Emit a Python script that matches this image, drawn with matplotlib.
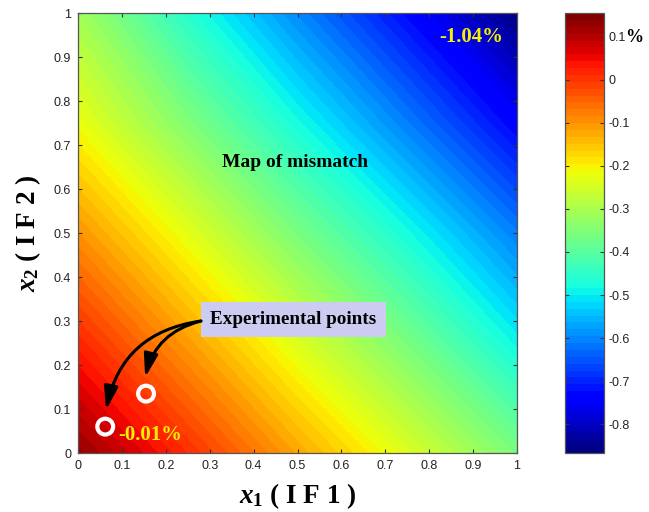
import numpy as np
import matplotlib
matplotlib.use("Agg")
import matplotlib.pyplot as plt

# Grid nodes (fraction of component 1 and component 2)
x1_nodes = [0.0, 0.25, 0.5, 0.75, 1.0]
x2_nodes = [0.0, 0.25, 0.5, 0.75, 1.0]

# Mismatch (%) at each node, rows follow x2_nodes, columns follow x1_nodes
mismatch_x2_000 = [0.13, 0.01, -0.12, -0.24, -0.36]
mismatch_x2_025 = [0.02, -0.11, -0.24, -0.36, -0.49]
mismatch_x2_050 = [-0.10, -0.23, -0.36, -0.48, -0.61]
mismatch_x2_075 = [-0.22, -0.35, -0.48, -0.61, -0.74]
mismatch_x2_100 = [-0.31, -0.46, -0.60, -0.73, -0.86]

# Experimental points
exp_x1 = [0.062, 0.155]
exp_x2 = [0.060, 0.135]

# Colour scale limits and ticks
c_min, c_max = -0.867, 0.155
cbar_ticks = [-0.8, -0.7, -0.6, -0.5, -0.4, -0.3, -0.2, -0.1, 0.0, 0.1]
axis_ticks = [0, 0.1, 0.2, 0.3, 0.4, 0.5, 0.6, 0.7, 0.8, 0.9, 1]

plt.rcParams['font.family'] = ['Liberation Sans', 'DejaVu Sans']
plt.rcParams['mathtext.fontset'] = 'custom'
plt.rcParams['mathtext.it'] = 'Liberation Serif:italic:bold'
plt.rcParams['mathtext.rm'] = 'Liberation Serif:bold'
plt.rcParams['mathtext.bf'] = 'Liberation Serif:bold'

Z = np.array([mismatch_x2_000, mismatch_x2_025, mismatch_x2_050,
              mismatch_x2_075, mismatch_x2_100])
X1, X2 = np.meshgrid(x1_nodes, x2_nodes)

fig = plt.figure(figsize=(6.49, 5.12), dpi=100)
ax = fig.add_axes([0.1202, 0.1152, 0.6764, 0.8594])
cax = fig.add_axes([0.8706, 0.1152, 0.0601, 0.8594])

cmap = plt.get_cmap('jet', 64)
levels = np.linspace(c_min, c_max, 65)
cs = ax.contourf(X1, X2, Z, levels=levels, cmap=cmap, vmin=c_min, vmax=c_max,
                 extend='neither', antialiased=False)

ax.set_xlim(0, 1)
ax.set_ylim(0, 1)
ax.set_xticks(axis_ticks)
ax.set_yticks(axis_ticks)
ax.set_xticklabels([f"{t:g}" for t in axis_ticks])
ax.set_yticklabels([f"{t:g}" for t in axis_ticks])
ax.tick_params(direction='in', length=3, width=0.8, top=True, right=True,
               labelsize=9, labelcolor='#222222', color='#333333', pad=5)
for s in ax.spines.values():
    s.set_color('#555555')
    s.set_linewidth(0.9)

ax.set_xlabel(r'$x_1$ ( I F 1 )', fontsize=19.5, family='Liberation Serif',
              fontweight='bold', labelpad=7)
ax.set_ylabel(r'$x_2$ ( I F 2 )', fontsize=19.5, family='Liberation Serif',
              fontweight='bold', labelpad=8)

# Annotations on the map
ax.text(0.494, 0.66, 'Map of mismatch', ha='center', va='center',
        fontsize=14, family='Liberation Serif', fontweight='bold', color='black')
ax.text(0.895, 0.945, '-1.04%', ha='center', va='center',
        fontsize=15, family='Liberation Serif', fontweight='bold', color='#f5f000')
ax.text(0.092, 0.04, '-0.01%', ha='left', va='center',
        fontsize=15, family='Liberation Serif', fontweight='bold', color='#f5f000')

ax.scatter(exp_x1, exp_x2, s=130, facecolors='none', edgecolors='white',
           linewidths=3.0, zorder=5)

ax.text(0.301, 0.304, 'Experimental points', ha='left', va='center',
        fontsize=13.8, family='Liberation Serif', fontweight='bold', color='black',
        bbox=dict(boxstyle='square,pad=0.48', fc='#ccccf2', ec='none'), zorder=6)

arrow_kw = dict(arrowstyle='-|>,head_length=1.0,head_width=0.3', color='black',
                lw=2.2, shrinkA=0, shrinkB=0, mutation_scale=14)
ax.annotate('', xy=(0.064, 0.098), xytext=(0.28, 0.300),
            arrowprops=dict(connectionstyle='arc3,rad=0.35', **arrow_kw), zorder=7)
ax.annotate('', xy=(0.153, 0.172), xytext=(0.28, 0.300),
            arrowprops=dict(connectionstyle='arc3,rad=0.3', **arrow_kw), zorder=7)

# Colour bar
cb = fig.colorbar(cs, cax=cax, ticks=cbar_ticks)
cb.ax.set_ylim(c_min, c_max)
cb.ax.set_yticklabels([f"{t:g}" for t in cbar_ticks])
cb.ax.tick_params(direction='in', length=3, width=0.8, left=True, right=True,
                  labelsize=9, labelcolor='#222222', color='#333333', pad=3)
cb.outline.set_edgecolor('#555555')
cb.outline.set_linewidth(0.9)
fig.text(634 / 649, 1 - 37 / 512, '%', ha='center', va='center', fontsize=13,
         family='Liberation Serif', fontweight='bold')

fig.savefig('out.png', dpi=100)
